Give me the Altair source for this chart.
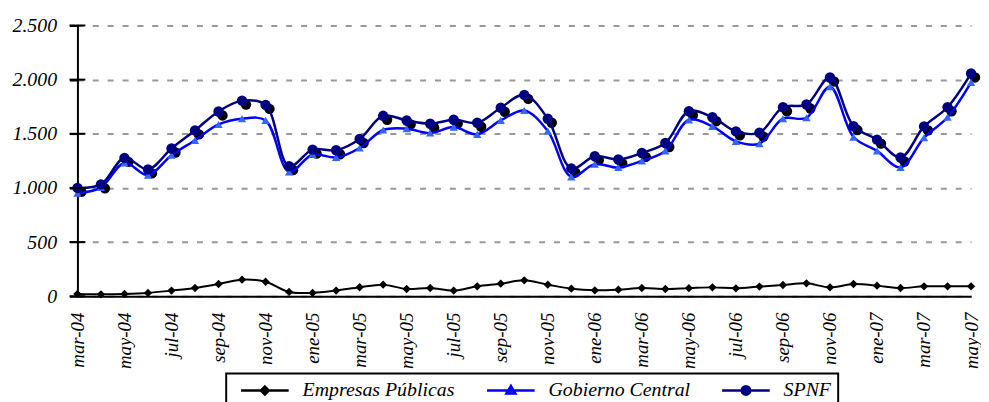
import altair as alt
import pandas as pd

meses = ["mar-04", "abr-04", "may-04", "jun-04", "jul-04", "ago-04", "sep-04", "oct-04", "nov-04", "dic-04",
         "ene-05", "feb-05", "mar-05", "abr-05", "may-05", "jun-05", "jul-05", "ago-05", "sep-05", "oct-05",
         "nov-05", "dic-05", "ene-06", "feb-06", "mar-06", "abr-06", "may-06", "jun-06", "jul-06", "ago-06",
         "sep-06", "oct-06", "nov-06", "dic-06", "ene-07", "feb-07", "mar-07", "abr-07", "may-07"]

spnf = [1000, 1033, 1277, 1171, 1364, 1531, 1706, 1806, 1767, 1201, 1354, 1348, 1452, 1666, 1623, 1593,
        1630, 1602, 1740, 1859, 1639, 1180, 1293, 1263, 1323, 1415, 1708, 1653, 1522, 1510, 1745, 1770,
        2020, 1571, 1446, 1281, 1568, 1745, 2057]
gobierno = [951, 1005, 1231, 1119, 1302, 1440, 1586, 1639, 1623, 1149, 1309, 1281, 1369, 1535, 1547, 1507,
            1562, 1495, 1623, 1715, 1525, 1103, 1220, 1189, 1250, 1342, 1629, 1568, 1430, 1409, 1639, 1648,
            1935, 1470, 1342, 1189, 1464, 1653, 1974]
empresas = [21, 18, 21, 31, 52, 76, 113, 153, 134, 40, 31, 52, 83, 107, 67, 76, 52, 92, 116, 147, 107, 70,
            55, 61, 76, 67, 75, 82, 73, 89, 104, 119, 82, 113, 98, 76, 92, 92, 92]

series = ["Empresas Públicas", "Gobierno Central", "SPNF"]
y_ticks = [0, 500, 1000, 1500, 2000, 2500]

rows = []
for nombre, vals in zip(series, [empresas, gobierno, spnf]):
    for m, v in zip(meses, vals):
        rows.append({"mes": m, "serie": nombre, "valor": v})
df = pd.DataFrame(rows)

FONT = "Liberation Serif"

x = alt.X("mes:O", sort=meses, scale=alt.Scale(type="point", padding=0),
          axis=alt.Axis(title=None, values=meses[::2], labelAngle=-90, ticks=False, tickSize=0,
                        labelPadding=16, labelFont=FONT, labelFontSize=19, labelFontStyle="italic",
                        labelColor="black", domainColor="black", domainWidth=2, grid=False))
y = alt.Y("valor:Q", scale=alt.Scale(domain=[0, 2500], nice=False),
          axis=alt.Axis(title=None, values=y_ticks, tickSize=8, tickWidth=2,
                        tickColor="black", domainColor="black", domainWidth=2, labelPadding=13,
                        labelFont=FONT, labelFontSize=20, labelFontStyle="italic", labelColor="black",
                        labelExpr="replace(format(datum.value, ','), ',', '.')",
                        grid=True, gridColor="#999999", gridWidth=2, gridDash=[6, 9]))

base = alt.Chart(df).encode(x=x, y=y)

def sel(name):
    return base.transform_filter(alt.datum.serie == name)

ep_line = sel("Empresas Públicas").mark_line(color="black", strokeWidth=2, interpolate="catmull-rom")
ep_pts = sel("Empresas Públicas").mark_point(shape="diamond", filled=True, color="black", size=70, opacity=1)
shadow = sel("SPNF").mark_point(shape="circle", filled=True, color="black", size=110, opacity=1,
                                xOffset=4, yOffset=4)
gc_line = sel("Gobierno Central").mark_line(color="#0000FF", strokeWidth=2.5, interpolate="catmull-rom")
gc_pts = sel("Gobierno Central").mark_point(shape="triangle-up", filled=True, color="#3366FF", size=70,
                                            opacity=1)
sp_line = sel("SPNF").mark_line(color="#000080", strokeWidth=2.5, interpolate="catmull-rom")
sp_pts = sel("SPNF").mark_point(shape="circle", filled=True, color="#000080", size=110, opacity=1)

# cross ticks on the y axis (the axis draws the outer half)
cross_ticks = alt.Chart(pd.DataFrame({"valor": y_ticks})).mark_tick(
    color="black", thickness=2, size=16, opacity=1
).encode(y=alt.Y("valor:Q"), x=alt.value(0))

paths = [
    "M-4.8,0L4.8,0M0,-0.8L0.8,0L0,0.8L-0.8,0Z",
    "M-4.8,0L4.8,0M0,-0.9L0.9,0.6L-0.9,0.6Z",
    "M-4.8,0L4.8,0M-0.85,0A0.85,0.85,0,1,0,0.85,0A0.85,0.85,0,1,0,-0.85,0Z",
]


def leyenda():
    return alt.Legend(title=None, orient="none", legendX=150, legendY=351,
                      direction="horizontal", symbolSize=100, symbolStrokeWidth=2.5,
                      labelFont=FONT, labelFontSize=20, labelFontStyle="italic",
                      labelColor="black", labelOffset=28, symbolOffset=22,
                      columnPadding=24, padding=7, strokeColor="black")


legend_layer = base.transform_filter("false").mark_point(filled=True, opacity=1).encode(
    fill=alt.Fill("serie:N", scale=alt.Scale(domain=series, range=["black", "#3366FF", "#000080"]),
                  legend=leyenda()),
    stroke=alt.Stroke("serie:N", scale=alt.Scale(domain=series, range=["black", "#0000FF", "#000080"]),
                      legend=leyenda()),
    shape=alt.Shape("serie:N", scale=alt.Scale(domain=series, range=paths), legend=leyenda()),
)

chart = alt.layer(
    ep_line, ep_pts, shadow, gc_line, gc_pts, sp_line, sp_pts, cross_ticks, legend_layer
).properties(
    width=901, height=273,
    autosize=alt.AutoSizeParams(type="none"),
    padding={"left": 70, "top": 16, "right": 10, "bottom": 105},
).configure_view(stroke=None).configure_legend(strokeWidth=2)

chart.save("out.html", embed_options={"renderer": "svg", "actions": False})
